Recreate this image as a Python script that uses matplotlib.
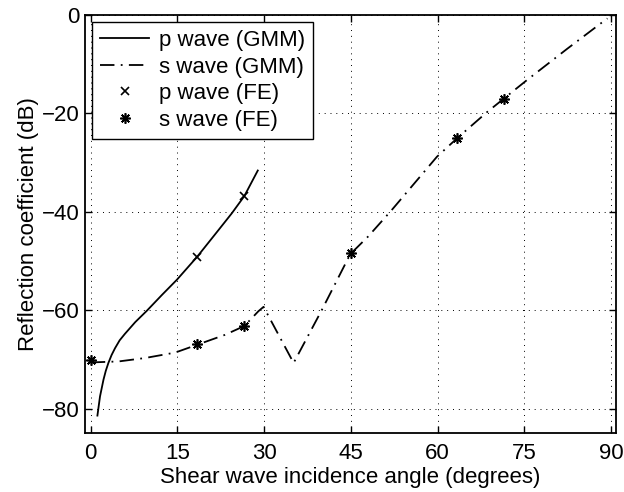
import numpy as np
import matplotlib
matplotlib.use('Agg')
import matplotlib.pyplot as plt

plt.rcParams['font.family'] = ['Liberation Sans', 'DejaVu Sans']

# p wave (GMM) curve
p_angle = [1.15, 1.6, 2.2, 2.6, 3.05, 3.6, 4.2, 5.0, 5.9, 7.7, 9.7, 12.3, 14.9, 18.43,
           22.1, 24.4, 26.57, 28.9]
p_refl = [-81.4, -77.5, -74.1, -72.3, -70.7, -69.1, -67.7, -66.1, -64.8, -62.4, -60.1,
          -56.9, -53.8, -49.1, -43.7, -40.3, -36.8, -31.6]

# s wave (GMM) curve
s_angle = [0, 4.8, 9.4, 14.6, 18.43, 23.2, 26.57, 29.0, 29.9, 35.1, 40.0, 44.9, 48.0,
           52.1, 59.9, 63.43, 68.5, 71.57, 75.5, 82.4, 88.7, 89.4]
s_refl = [-70.6, -70.4, -69.7, -68.6, -67.0, -65.0, -63.2, -60.2, -59.3, -70.7, -59.9,
          -48.6, -45.0, -39.6, -28.8, -25.0, -19.8, -16.9, -13.2, -6.9, -1.3, -0.7]

# finite element points
p_fe_angle = [18.43, 26.57]
p_fe_refl = [-49.1, -36.8]
s_fe_angle = [0, 18.43, 26.57, 45, 63.43, 71.57]
s_fe_refl = [-70.1, -66.9, -63.1, -48.3, -25.0, -17.0]

xticks = [0, 15, 30, 45, 60, 75, 90]
yticks = [-80, -60, -40, -20, 0]

fig = plt.figure(figsize=(6.24, 4.92), dpi=100)
ax = fig.add_axes([0.1362, 0.1193, 0.8502, 0.8502])

ax.plot(p_angle, p_refl, color='black', lw=1.3, label='p wave (GMM)')
ax.plot(s_angle, s_refl, color='black', lw=1.3, linestyle=(0, (8, 3.5, 1, 3.5)),
        label='s wave (GMM)')
ax.plot(p_fe_angle, p_fe_refl, linestyle='none', marker='x', color='black',
        markersize=6, mew=1.2, label='p wave (FE)')
ax.plot(s_fe_angle, s_fe_refl, linestyle='none', marker=(8, 2, 0), color='black',
        markersize=7.5, mew=1.2, label='s wave (FE)')

ax.set_xlim(-1, 90.8)
ax.set_ylim(-85, 0)
ax.set_xticks(xticks)
ax.set_yticks(yticks)
ax.set_xticklabels([str(t) for t in xticks])
ax.set_yticklabels([str(t).replace('-', '\u2212') for t in yticks])
ax.grid(True, color='black', linestyle=(0, (1, 5)), lw=0.7)
ax.tick_params(direction='in', top=True, right=True, labelsize=16, length=5, width=1,
               pad=4)
ax.tick_params(axis='x', pad=7)
for sp in ax.spines.values():
    sp.set_linewidth(1.3)

ax.set_xlabel('Shear wave incidence angle (degrees)', fontsize=16, labelpad=2)
ax.set_ylabel('Reflection coefficient (dB)', fontsize=16, labelpad=2)

leg = ax.legend(loc='upper left', fontsize=16, frameon=True, fancybox=False,
                edgecolor='black', borderaxespad=0.33, handlelength=2.2,
                handletextpad=0.45, labelspacing=0.25, borderpad=0.35,
                framealpha=1)
leg.get_frame().set_linewidth(1.0)

fig.savefig('out.png', dpi=100)
